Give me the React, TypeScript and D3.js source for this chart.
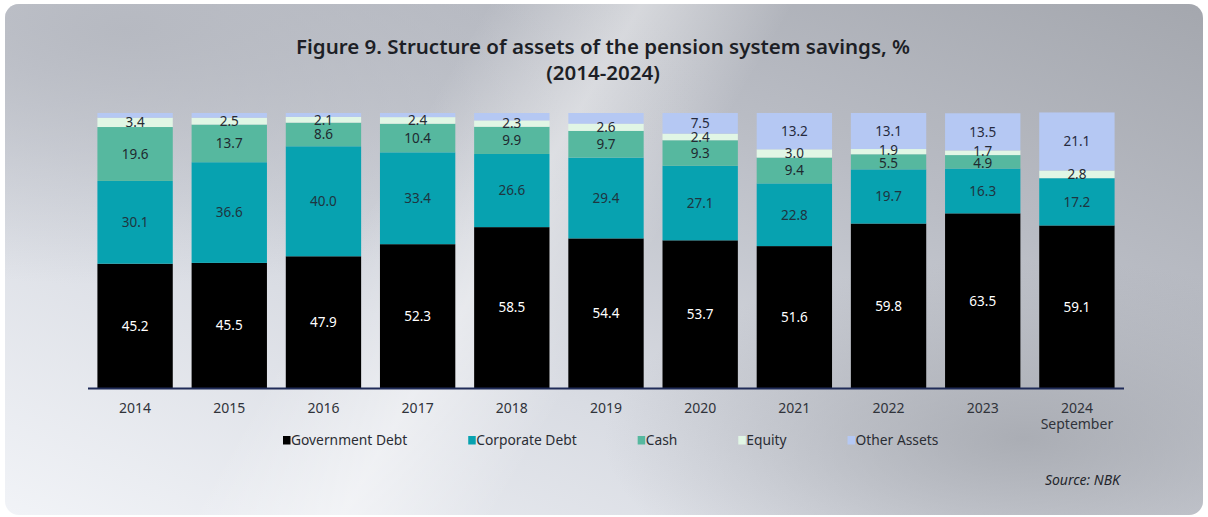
import React, { useEffect, useRef } from "react";
import * as d3 from "d3";

const years = ["2014", "2015", "2016", "2017", "2018", "2019", "2020", "2021", "2022", "2023", "2024"];
const yearSub = ["", "", "", "", "", "", "", "", "", "", "September"];
const seriesNames = ["Government Debt", "Corporate Debt", "Cash", "Equity", "Other Assets"];
const governmentDebt = [45.2, 45.5, 47.9, 52.3, 58.5, 54.4, 53.7, 51.6, 59.8, 63.5, 59.1];
const corporateDebt = [30.1, 36.6, 40.0, 33.4, 26.6, 29.4, 27.1, 22.8, 19.7, 16.3, 17.2];
const cash = [19.6, 13.7, 8.6, 10.4, 9.9, 9.7, 9.3, 9.4, 5.5, 4.9, 0];
const equity = [3.4, 2.5, 2.1, 2.4, 2.3, 2.6, 2.4, 3.0, 1.9, 1.7, 2.8];
const otherAssets = [1.7, 1.7, 1.4, 1.5, 2.7, 3.9, 7.5, 13.2, 13.1, 13.5, 21.1];
const otherLabelled = [false, false, false, false, false, false, true, true, true, true, true];

const colors = ["#000000", "#07a2b0", "#56b89f", "#e1f6e5", "#b5c8f3"];
const labelColors = ["#ffffff", "#1f3540", "#1f2a30", "#262b33", "#262b40"];

const W = 1208;
const H = 517;
const FONT = "'Noto Sans', 'Open Sans', sans-serif";

export default function App() {
  const ref = useRef<SVGSVGElement | null>(null);

  useEffect(() => {
    const svg = d3.select(ref.current);
    svg.selectAll("*").remove();

    const defs = svg.append("defs");
    const bg = defs.append("linearGradient").attr("id", "bg").attr("x1", "0").attr("y1", "1").attr("x2", "1").attr("y2", "0");
    bg.append("stop").attr("offset", "0").attr("stop-color", "#f1f3f7");
    bg.append("stop").attr("offset", "0.35").attr("stop-color", "#d9dce3");
    bg.append("stop").attr("offset", "0.7").attr("stop-color", "#b9bcc4");
    bg.append("stop").attr("offset", "1").attr("stop-color", "#a4a7ae");
    const tl = defs.append("radialGradient").attr("id", "tl").attr("cx", "0.1").attr("cy", "0.05").attr("r", "0.5");
    tl.append("stop").attr("offset", "0").attr("stop-color", "#b4b7bf").attr("stop-opacity", 0.9);
    tl.append("stop").attr("offset", "1").attr("stop-color", "#b4b7bf").attr("stop-opacity", 0);
    const streak = defs.append("linearGradient").attr("id", "streak").attr("x1", "0").attr("y1", "0").attr("x2", "1").attr("y2", "0.25");
    streak.append("stop").attr("offset", "0.38").attr("stop-color", "#ffffff").attr("stop-opacity", 0);
    streak.append("stop").attr("offset", "0.5").attr("stop-color", "#ffffff").attr("stop-opacity", 0.45);
    streak.append("stop").attr("offset", "0.62").attr("stop-color", "#ffffff").attr("stop-opacity", 0);
    const br = defs.append("radialGradient").attr("id", "br").attr("cx", "0.85").attr("cy", "0.85").attr("r", "0.35");
    br.append("stop").attr("offset", "0").attr("stop-color", "#a2a5ac").attr("stop-opacity", 0.8);
    br.append("stop").attr("offset", "1").attr("stop-color", "#a2a5ac").attr("stop-opacity", 0);

    const card = { x: 5, y: 4, w: 1198, h: 511, r: 14 };
    ["bg", "tl", "br", "streak"].forEach((id) => {
      svg.append("rect").attr("x", card.x).attr("y", card.y).attr("width", card.w).attr("height", card.h)
        .attr("rx", card.r).attr("fill", `url(#${id})`);
    });

    // Title
    const title = svg.append("text").attr("text-anchor", "middle").attr("font-family", FONT)
      .attr("font-weight", 600).attr("font-size", 20.5).attr("fill", "#1d1f26");
    title.append("tspan").attr("x", 603).attr("y", 54).text("Figure 9. Structure of assets of the pension system savings, %");
    title.append("tspan").attr("x", 603).attr("y", 80).text("(2014-2024)");

    const x = d3.scaleBand<string>().domain(years).range([88, 1124]).paddingInner(0.2).paddingOuter(0.1);
    const y = d3.scaleLinear().domain([0, 100]).range([388, 113]);

    const table = years.map((yr, i) => ({
      year: yr,
      "Government Debt": governmentDebt[i],
      "Corporate Debt": corporateDebt[i],
      Cash: cash[i],
      Equity: equity[i],
      "Other Assets": otherAssets[i],
    }));
    const layers = d3.stack<any>().keys(seriesNames)(table);

    const g = svg.append("g");
    layers.forEach((layer, si) => {
      g.selectAll(null).data(layer).enter().append("rect")
        .attr("x", (d: any) => x(d.data.year)!)
        .attr("width", x.bandwidth())
        .attr("y", (d: any) => y(d[1]))
        .attr("height", (d: any) => Math.max(0, y(d[0]) - y(d[1])))
        .attr("fill", colors[si]);
    });

    // Labels, spreading neighbours that are too close
    const minGap = 12.5;
    years.forEach((yr, i) => {
      const items: { v: number; cy: number; si: number }[] = [];
      layers.forEach((layer, si) => {
        const d: any = layer[i];
        const v = d[1] - d[0];
        if (v <= 0) return;
        if (si === 4 && !otherLabelled[i]) return;
        items.push({ v, cy: (y(d[0]) + y(d[1])) / 2, si });
      });
      items.sort((a, b) => a.cy - b.cy);
      for (let k = 1; k < items.length; k++) {
        const gap = items[k].cy - items[k - 1].cy;
        if (gap < minGap) {
          const mid = (items[k].cy + items[k - 1].cy) / 2;
          items[k - 1].cy = mid - minGap / 2;
          items[k].cy = mid + minGap / 2;
        }
      }
      items.forEach((it) => {
        g.append("text").attr("x", x(yr)! + x.bandwidth() / 2).attr("y", it.cy)
          .attr("dy", "0.36em").attr("text-anchor", "middle").attr("font-family", FONT)
          .attr("font-size", 13.5).attr("fill", labelColors[it.si]).text(it.v.toFixed(1));
      });
    });

    // Axis line
    svg.append("line").attr("x1", 88).attr("x2", 1124).attr("y1", 388.5).attr("y2", 388.5)
      .attr("stroke", "#1f2b58").attr("stroke-width", 1.8);

    // Tick labels
    years.forEach((yr, i) => {
      const cx = x(yr)! + x.bandwidth() / 2;
      const t = svg.append("text").attr("text-anchor", "middle").attr("font-family", FONT)
        .attr("font-size", 14).attr("fill", "#30333a");
      t.append("tspan").attr("x", cx).attr("y", 413).text(yr);
      if (yearSub[i]) t.append("tspan").attr("x", cx).attr("y", 429).text(yearSub[i]);
    });

    // Legend
    let lx = 283;
    seriesNames.forEach((name, si) => {
      svg.append("rect").attr("x", lx).attr("y", 436).attr("width", 7.5).attr("height", 8.5).attr("fill", colors[si]);
      const t = svg.append("text").attr("x", lx + 8).attr("y", 445).attr("font-family", FONT)
        .attr("font-size", 13.8).attr("fill", "#2a2d34").text(name);
      const w = (t.node() as SVGTextElement).getComputedTextLength();
      lx = lx + 8 + w + 61;
    });

    // Source
    svg.append("text").attr("x", 1120).attr("y", 485).attr("text-anchor", "end").attr("font-family", FONT)
      .attr("font-style", "italic").attr("font-size", 14).attr("fill", "#24262c").text("Source: NBK");
  }, []);

  return (
    <svg ref={ref} width={W} height={H} style={{ position: "absolute", left: 0, top: 0, display: "block" }} />
  );
}
